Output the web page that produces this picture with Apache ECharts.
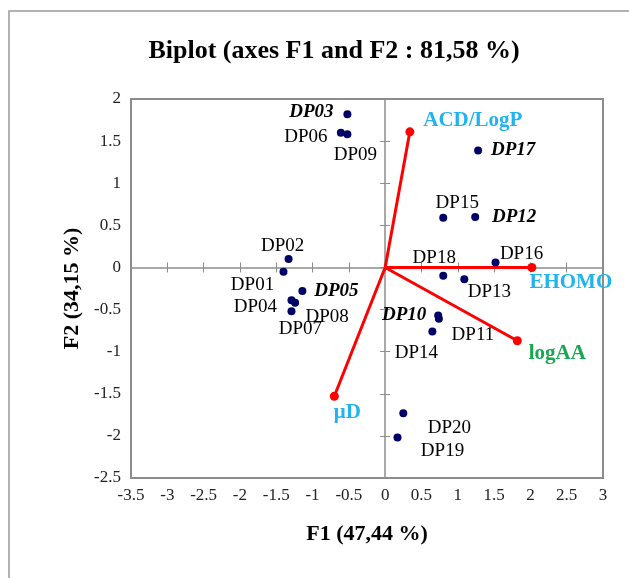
<!DOCTYPE html>
<html>
<head>
<meta charset="utf-8">
<script src="https://cdn.jsdelivr.net/npm/echarts@6/dist/echarts.min.js"></script>
<style>html,body{margin:0;padding:0;background:#fff}#c{width:629px;height:578px}</style>
</head>
<body>
<div id="c"></div>
<script>
// ---- data ----
const obsNames = ['DP01','DP02','DP03','DP04','DP05','DP06','DP07','DP08','DP09','DP10','DP11','DP12','DP13','DP14','DP15','DP16','DP17','DP18','DP19','DP20'];
const obsF1 = [-1.40,-1.33,-0.52,-1.29,-1.14,-0.61,-1.29,-1.24,-0.52,0.73,0.74,1.24,1.09,0.65,0.80,1.52,1.28,0.80,0.17,0.25];
const obsF2 = [-0.05,0.10,1.82,-0.39,-0.28,1.60,-0.52,-0.42,1.58,-0.57,-0.61,0.60,-0.14,-0.76,0.59,0.06,1.39,-0.10,-2.02,-1.73];
const emphasized = ['DP03','DP05','DP10','DP12','DP17'];
const varNames = ['ACD/LogP','EHOMO','logAA','\u03bcD'];
const varF1 = [0.34, 2.02, 1.82, -0.70];
const varF2 = [1.61, 0.00, -0.87, -1.53];
const xTicks = [-3.5,-3,-2.5,-2,-1.5,-1,-0.5,0,0.5,1,1.5,2,2.5,3];
const yTicks = [-2.5,-2,-1.5,-1,-0.5,0,0.5,1,1.5,2];

// ---- label placement (pixels, relative to point) ----
const obsLabelOffset = {
  DP01:[-31,13], DP02:[-6,-13], DP03:[-36,-2], DP04:[-36,7], DP05:[34,0],
  DP06:[-35,4], DP07:[9,18], DP08:[32,14], DP09:[8,21], DP10:[-34,0],
  DP11:[34,16], DP12:[39,0], DP13:[25,13], DP14:[-16,22], DP15:[14,-15],
  DP16:[26,-8], DP17:[35,0], DP18:[-9,-18], DP19:[45,13], DP20:[46,15]
};
const varLabelOffset = [[63,-11],[39,15],[40,13],[13,16]];
const varColors = ['#1fb4ee','#1fb4ee','#16a84f','#1fb4ee'];

const serif = 'Liberation Serif, Times New Roman, serif';
const axisGray = '#8c8c8c';

const scatterData = obsNames.map((n,i)=>{
  const em = emphasized.includes(n);
  return {
    name:n, value:[obsF1[i], obsF2[i]],
    label:{show:true, position:'inside', offset:obsLabelOffset[n], formatter:n,
      fontFamily:serif, fontSize:19, color:'#000',
      fontWeight: em?'bold':'normal', fontStyle: em?'italic':'normal'}
  };
});

const vecSeries = varNames.map((n,i)=>({
  type:'line', xAxisIndex:0, yAxisIndex:0,
  data:[
    {value:[0,0], symbolSize:0, label:{show:false}},
    {value:[varF1[i], varF2[i]], symbolSize:9,
      label:{show:true, position:'inside', offset:varLabelOffset[i], formatter:n,
        fontFamily:serif, fontSize:21, fontWeight:'bold', color:varColors[i]}}
  ],
  symbol:'circle', showSymbol:true,
  lineStyle:{color:'#ff0000', width:3},
  itemStyle:{color:'#ff0000', opacity:1},
  z:3, animation:false, silent:true
}));

const axisCommon = {type:'value', splitLine:{show:false}};
const option = {
  animation:false,
  title:{text:'Biplot (axes F1 and F2 : 81,58 %)', left:329, top:33, textAlign:'center',
    textStyle:{fontFamily:serif, fontSize:26, fontWeight:'bold', color:'#000'}},
  grid:{left:131, right:26, top:99, bottom:100, show:true, borderColor:axisGray, borderWidth:2, backgroundColor:'transparent'},
  graphic:[{type:'rect', shape:{x:9, y:11, width:700, height:700}, style:{fill:'none', stroke:'#999', lineWidth:1.5}, z:-10}],
  xAxis:[
    Object.assign({}, axisCommon, {min:-3.5, max:3, interval:0.5, position:'bottom',
      axisLine:{show:false, onZero:false}, axisTick:{show:false},
      axisLabel:{fontFamily:serif, fontSize:17, color:'#222', margin:9,
        customValues: xTicks, formatter: v=>String(v)},
      name:'F1 (47,44 %)', nameLocation:'middle', nameGap:45,
      nameTextStyle:{fontFamily:serif, fontSize:22, fontWeight:'bold', color:'#000'}}),
    Object.assign({}, axisCommon, {min:-3.5, max:3, interval:0.5,
      axisLine:{show:true, onZero:true, lineStyle:{color:axisGray, width:1.5}},
      axisTick:{show:true, inside:false, length:5, lineStyle:{color:axisGray}}, axisLabel:{show:false}}),
    Object.assign({}, axisCommon, {min:-3.5, max:3, interval:0.5,
      axisLine:{show:false, onZero:true},
      axisTick:{show:true, inside:true, length:5, lineStyle:{color:axisGray}}, axisLabel:{show:false}})
  ],
  yAxis:[
    Object.assign({}, axisCommon, {min:-2.5, max:2, interval:0.5, position:'left',
      axisLine:{show:false, onZero:false}, axisTick:{show:false},
      axisLabel:{fontFamily:serif, fontSize:17, color:'#222', margin:10,
        customValues: yTicks, formatter: v=>String(v)},
      name:'F2 (34,15 %)', nameLocation:'middle', nameGap:32, nameRotate:90,
      nameTextStyle:{fontFamily:serif, fontSize:22, fontWeight:'bold', color:'#000'}}),
    Object.assign({}, axisCommon, {min:-2.5, max:2, interval:0.5,
      axisLine:{show:true, onZero:true, lineStyle:{color:axisGray, width:1.5}},
      axisTick:{show:true, inside:false, length:5, lineStyle:{color:axisGray}}, axisLabel:{show:false}}),
    Object.assign({}, axisCommon, {min:-2.5, max:2, interval:0.5,
      axisLine:{show:false, onZero:true},
      axisTick:{show:true, inside:true, length:5, lineStyle:{color:axisGray}}, axisLabel:{show:false}})
  ],
  series:[
    {type:'scatter', xAxisIndex:0, yAxisIndex:0, data:scatterData, symbolSize:8,
      itemStyle:{color:'#000066', opacity:1}, z:4, silent:true}
  ].concat(vecSeries)
};
const chart = echarts.init(document.getElementById('c'), null, {renderer:'canvas'});
chart.setOption(option);
</script>
</body>
</html>
